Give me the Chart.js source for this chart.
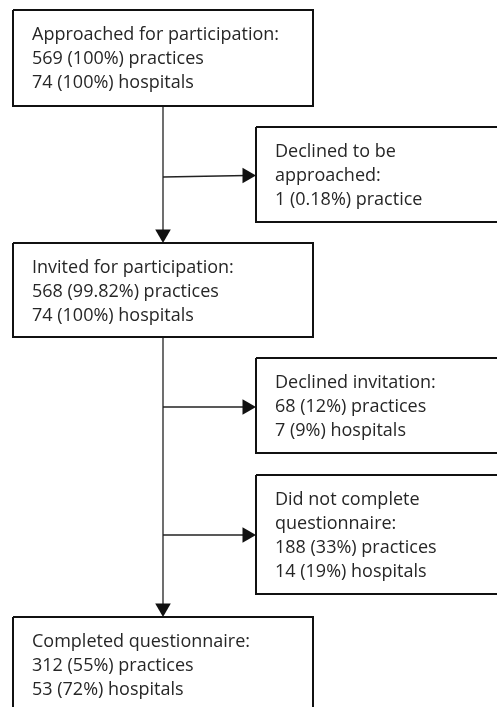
<!DOCTYPE html>
<html>
<head>
<meta charset="utf-8">
<script src="https://cdn.jsdelivr.net/npm/chart.js@4"></script>
<style>
    html, body { margin: 0; padding: 0; background: #fff; overflow: hidden; }
    #flowChart { display: block; }
</style>
</head>
<body>
<canvas id="flowChart" width="497" height="707"></canvas>
<script>
// stage data
const stageTitles = [
    ['Approached for participation:'],
    ['Declined to be', 'approached:'],
    ['Invited for participation:'],
    ['Declined invitation:'],
    ['Did not complete', 'questionnaire:'],
    ['Completed questionnaire:']
];
const practiceCounts = [569, 1, 568, 68, 188, 312];
const practicePcts = ['100%', '0.18%', '99.82%', '12%', '33%', '55%'];
const hospitalCounts = [74, null, 74, 7, 14, 53];
const hospitalPcts = ['100%', null, '100%', '9%', '19%', '72%'];

// layout of the boxes (axis units = pixels)
const boxes = [
    { x0: 13, x1: 313, y0: 10, y1: 106 },
    { x0: 256, x1: 520, y0: 127, y1: 222 },
    { x0: 13, x1: 313, y0: 243, y1: 337 },
    { x0: 256, x1: 520, y0: 358, y1: 453 },
    { x0: 256, x1: 520, y0: 475, y1: 594 },
    { x0: 13, x1: 313, y0: 617, y1: 730 }
];
const trunkX = 163;
const headR = 9;

function stageLines(i) {
    const lines = stageTitles[i].slice();
    lines.push(practiceCounts[i] + ' (' + practicePcts[i] + ') ' + (practiceCounts[i] === 1 ? 'practice' : 'practices'));
    if (hospitalCounts[i] !== null) {
        lines.push(hospitalCounts[i] + ' (' + hospitalPcts[i] + ') hospitals');
    }
    return lines;
}

const datasets = [];

boxes.forEach(b => {
    datasets.push({
        data: [{x: b.x0, y: b.y0}, {x: b.x1, y: b.y0}, {x: b.x1, y: b.y1}, {x: b.x0, y: b.y1}, {x: b.x0, y: b.y0}],
        showLine: true,
        borderColor: '#111',
        borderWidth: 2,
        borderJoinStyle: 'miter',
        pointRadius: 0,
        fill: false
    });
});

function arrow(points, rotation) {
    datasets.push({
        data: points,
        showLine: true,
        borderColor: '#222',
        borderWidth: 1.3,
        pointRadius: points.map((p, i) => i === points.length - 1 ? headR : 0),
        pointStyle: 'triangle',
        rotation: rotation,
        pointBackgroundColor: '#111',
        pointBorderColor: '#111',
        pointBorderWidth: 0,
        fill: false
    });
}

// trunk arrows (down)
arrow([{x: trunkX, y: boxes[0].y1}, {x: trunkX, y: boxes[2].y0 - headR}], 180);
arrow([{x: trunkX, y: boxes[2].y1}, {x: trunkX, y: boxes[5].y0 - headR}], 180);
// side arrows (right)
arrow([{x: trunkX, y: 177}, {x: boxes[1].x0 - headR, y: 175.5}], 90);
arrow([{x: trunkX, y: 407}, {x: boxes[3].x0 - headR, y: 407}], 90);
arrow([{x: trunkX, y: 535}, {x: boxes[4].x0 - headR, y: 535}], 90);

const boxText = {
    id: 'boxText',
    afterDatasetsDraw(chart) {
        const {ctx, scales: {x, y}} = chart;
        ctx.save();
        ctx.fillStyle = '#262626';
        ctx.font = '18px "Open Sans"';
        ctx.textBaseline = 'alphabetic';
        ctx.textAlign = 'left';
        boxes.forEach((b, i) => {
            stageLines(i).forEach((line, j) => {
                ctx.fillText(line, x.getPixelForValue(b.x0 + 19), y.getPixelForValue(b.y0 + 29.5 + j * 24.3));
            });
        });
        ctx.restore();
    }
};

new Chart(document.getElementById('flowChart').getContext('2d'), {
    type: 'scatter',
    data: { datasets: datasets },
    options: {
        responsive: false,
        animation: false,
        layout: { padding: 0, autoPadding: false },
        scales: {
            x: { type: 'linear', min: 0, max: 497, display: false },
            y: { type: 'linear', min: 0, max: 707, reverse: true, display: false }
        },
        plugins: {
            legend: { display: false },
            tooltip: { enabled: false }
        }
    },
    plugins: [boxText]
});
</script>
</body>
</html>
